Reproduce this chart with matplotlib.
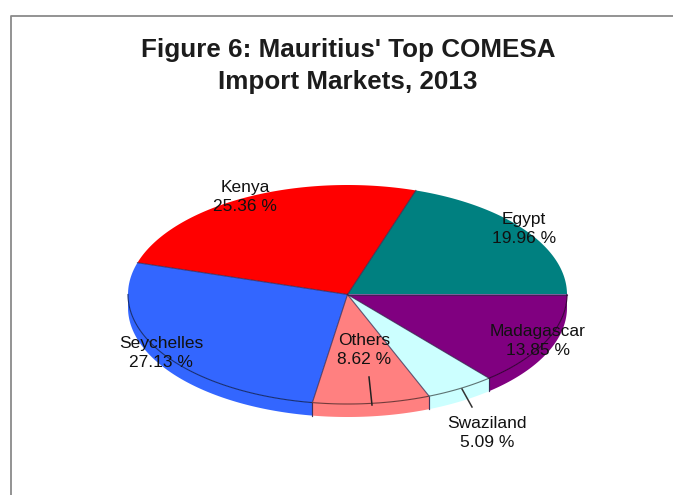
from matplotlib.colors import to_rgb
from matplotlib.patches import Polygon
import matplotlib.pyplot as plt
import numpy as np

names = ['Egypt', 'Kenya', 'Seychelles', 'Others', 'Swaziland', 'Madagascar']
shares = [19.96, 25.36, 27.13, 8.62, 5.09, 13.85]
colors = ['#008080', '#ff0000', '#3366ff', '#ff8080', '#ccffff', '#800080']

cx, cy = 347.5, 294.5
rx, ry = 219.5, 109.5
depth = 13
edge = '#33264d'

# label centres, pixels
label_pos = [(524, 229), (245, 197), (161, 353), (364, 350), (487, 433), (538, 341)]


def rim(a0, a1):
    t = np.radians(np.linspace(a0, a1, 80))
    return np.column_stack([cx + rx * np.cos(t), cy - ry * np.sin(t)])


fig = plt.figure(figsize=(6.73, 4.95), dpi=100)
ax = fig.add_axes([0, 0, 1, 1])
ax.set_xlim(0, 673)
ax.set_ylim(495, 0)
ax.axis('off')

# outer frame
ax.plot([10.5, 10.5, 673], [495, 15.5, 15.5], color='#8a8a8a', lw=1.3)

angles = np.concatenate([[0], np.cumsum(shares) / sum(shares) * 360])

# side wall, only the front half shows
for i in range(len(shares)):
    a0 = max(angles[i], 180)
    a1 = angles[i + 1]
    if a1 <= a0:
        continue
    top = rim(a0, a1)
    low = top[::-1] + [0, depth]
    ax.add_patch(Polygon(np.vstack([top, low]), fc=colors[i], ec='none', zorder=2))
    for p in (top[0], top[-1]):
        if p[1] > cy + 1:
            ax.plot([p[0], p[0]], [p[1], p[1] + depth], color=edge, lw=0.8, alpha=0.7, zorder=3)

# top face, outline only on the spokes and the front rim
for i in range(len(shares)):
    arc = rim(angles[i], angles[i + 1])
    ax.add_patch(Polygon(np.vstack([[cx, cy], arc]), fc=colors[i], ec='none', zorder=4))
for i in range(len(shares)):
    arc = rim(angles[i], angles[i + 1])
    ax.plot([cx, arc[0, 0]], [cy, arc[0, 1]], color=edge, lw=0.8, alpha=0.75, zorder=5)
    front = rim(max(angles[i], 180), angles[i + 1]) if angles[i + 1] > 180 else None
    if front is not None:
        dark = np.array(to_rgb(colors[i])) * 0.45
        ax.plot(front[:, 0], front[:, 1], color=dark, lw=0.8, zorder=5)

# leader lines
ax.plot([369, 372], [377, 405], color='#222222', lw=1.1, zorder=5)
ax.plot([462, 472], [389, 407], color='#333333', lw=1.1, zorder=5)

ax.text(348, 66, "Figure 6: Mauritius' Top COMESA\nImport Markets, 2013", ha='center', va='center',
        fontsize=18.7, fontweight='bold', family='Liberation Sans', color='#1c1c1c', linespacing=1.45)

for name, share, (x, y) in zip(names, shares, label_pos):
    ax.text(x, y, '%s\n%.2f %%' % (name, share), ha='center', va='center', fontsize=12.5,
            family='Liberation Sans', color='#111111', linespacing=1.3, zorder=6)

fig.savefig('out.png', dpi=100)
